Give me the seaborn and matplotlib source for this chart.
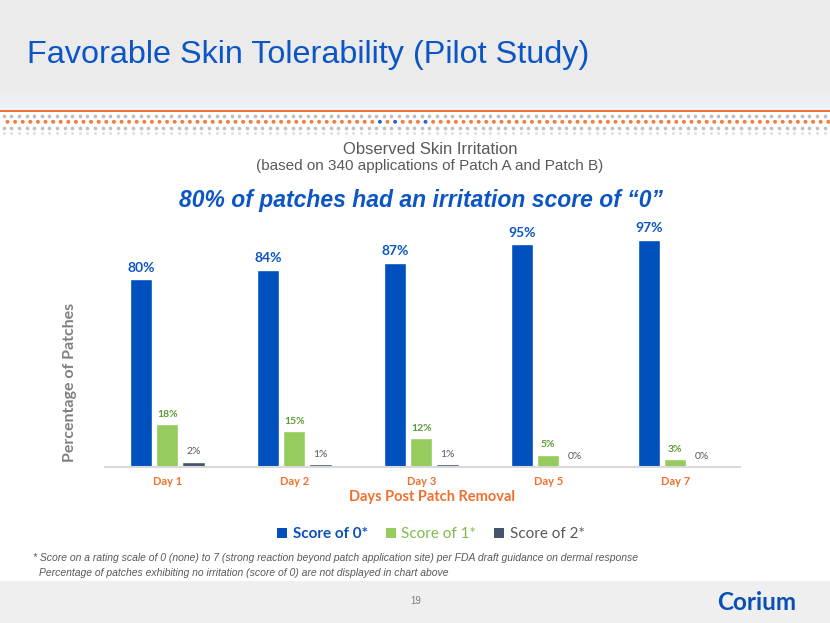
import matplotlib
matplotlib.use("Agg")
import matplotlib.pyplot as plt
from matplotlib.patches import Rectangle, Patch
import seaborn as sns
import pandas as pd
import numpy as np

DAYS = ["Day 1", "Day 2", "Day 3", "Day 5", "Day 7"]
SCORES = ["Score of 0*", "Score of 1*", "Score of 2*"]
SCORE_0 = [80, 84, 87, 95, 97]
SCORE_1 = [18, 15, 12, 5, 3]
SCORE_2 = [2, 1, 1, 0, 0]

BAR_COLORS = ["#0050BE", "#96CC5E", "#44546A"]
LABEL_COLORS = ["#0B55C4", "#5B9B35", "#595959"]
ORANGE = "#F0702D"
TITLE_BLUE = "#0B55C4"

W, H = 830, 623


def px(x, y):
    """pixel position -> figure fraction"""
    return x / W, 1 - y / H


def build_frame():
    rows = []
    for vals, score in zip([SCORE_0, SCORE_1, SCORE_2], SCORES):
        for day, v in zip(DAYS, vals):
            rows.append([day, score, v])
    return pd.DataFrame(rows, columns=["Day", "Score", "Percent"])


def draw_background(fig):
    bg = fig.add_axes([0, 0, 1, 1], zorder=-10)
    bg.set_xlim(0, W)
    bg.set_ylim(H, 0)
    bg.axis("off")

    # header band, grey fading to a pale blue just above the orange rule
    grad = np.linspace(0, 1, 110)[:, None]
    top = np.array([0.922, 0.922, 0.922])
    low = np.array([0.93, 0.95, 0.98])
    w = np.clip((grad - 0.78) / 0.22, 0, 1)
    img = top * (1 - w) + low * w
    img = np.repeat(img[:, None, :], 2, axis=1)
    bg.imshow(img, extent=[0, W, 110, 0], aspect="auto", zorder=0)
    bg.add_patch(Rectangle((0, 110), W, 2.2, color="#F07335", lw=0, zorder=1))

    # dotted strip
    step = 7.6
    xs = np.arange(7.5, W, step)
    grey = "#BEBEBE"
    bg.scatter(xs - step / 2, np.full_like(xs, 116.3), s=7, color=grey, lw=0)
    bg.scatter(xs - step / 2, np.full_like(xs, 127.6), s=7, color=grey, lw=0)
    bg.scatter(xs - step / 2, np.full_like(xs, 132.5), s=5, color="#E2E2E2", lw=0)
    dot_cols = []
    for x in xs:
        if any(abs(x - b) < 1.5 for b in (379.9, 395.1, 425.5)):
            dot_cols.append("#2E63C0")
        else:
            dot_cols.append("#F47C3C")
    bg.scatter(xs, np.full_like(xs, 121.8), s=8, color=dot_cols, lw=0)

    # footer band
    bg.add_patch(Rectangle((0, 581), W, H - 581, color="#EFEFEF", lw=0))


def main():
    sns.set_theme(style="white")
    plt.rcParams["font.family"] = ["Lato", "DejaVu Sans"]

    df = build_frame()

    fig = plt.figure(figsize=(8.3, 6.23), dpi=100)
    fig.patch.set_facecolor("white")
    draw_background(fig)

    ax = fig.add_axes([105 / W, 1 - 466.5 / H, 635 / W, 234 / H])
    ax.set_facecolor("none")
    sns.barplot(data=df, x="Day", y="Percent", hue="Score", order=DAYS,
                hue_order=SCORES, palette=BAR_COLORS, width=0.62, gap=0.15,
                saturation=1, ax=ax, legend=False)

    weights = ["bold", "bold", "normal"]
    sizes = [10, 7.5, 7.5]
    for cont, col, wt, sz in zip(ax.containers, LABEL_COLORS, weights, sizes):
        ax.bar_label(cont, labels=["%d%%" % v.get_height() for v in cont],
                     padding=4, color=col, fontweight=wt, fontsize=sz)

    ax.set_xlim(-0.49, 4.51)
    ax.set_ylim(0, 100)
    ax.set_yticks([])
    ax.set_xlabel("")
    ax.set_ylabel("")
    for side in ["left", "right", "top"]:
        ax.spines[side].set_visible(False)
    ax.spines["bottom"].set_color("#D9D9D9")
    ax.spines["bottom"].set_linewidth(1.5)
    ax.tick_params(axis="x", length=0, pad=7)
    for t in ax.get_xticklabels():
        t.set_color(ORANGE)
        t.set_fontweight("bold")
        t.set_fontsize(8)

    # axis titles
    fig.text(*px(432, 497), "Days Post Patch Removal", ha="center", va="center",
             color=ORANGE, fontweight="bold", fontsize=10.5)
    fig.text(*px(70, 382), "Percentage of Patches", ha="center", va="center",
             rotation=90, color="#7F7F7F", fontweight="bold", fontsize=11.5)

    # legend
    handles = [Patch(facecolor=c, edgecolor="none") for c in BAR_COLORS]
    leg = fig.legend(handles, SCORES, loc="center", bbox_to_anchor=px(431, 534),
                     ncol=3, frameon=False, fontsize=11, handlelength=0.65,
                     handleheight=0.65, handletextpad=0.35, columnspacing=1.2)
    leg_cols = ["#0B50BF", "#7DBB4A", "#595959"]
    for txt, c in zip(leg.get_texts(), leg_cols):
        txt.set_color(c)
    leg.get_texts()[0].set_fontweight("bold")

    # slide texts
    arial = ["Liberation Sans", "DejaVu Sans"]
    fig.text(*px(27, 55), "Favorable Skin Tolerability (Pilot Study)", ha="left",
             va="center", color=TITLE_BLUE, fontsize=23.3, family=arial)
    fig.text(*px(430, 150), "Observed Skin Irritation", ha="center", va="center",
             color="#595959", fontsize=12, family=arial)
    fig.text(*px(430, 166), "(based on 340 applications of Patch A and Patch B)",
             ha="center", va="center", color="#595959", fontsize=11, family=arial)
    fig.text(*px(421, 201), "80% of patches had an irritation score of \u201c0\u201d",
             ha="center", va="center", color=TITLE_BLUE, fontsize=16.5,
             fontweight="bold", fontstyle="italic", family=arial)

    narrow = ["Liberation Sans Narrow", "Liberation Sans", "DejaVu Sans"]
    fig.text(*px(33, 558), "* Score on a rating scale of 0 (none) to 7 (strong reaction "
             "beyond patch application site) per FDA draft guidance on dermal response",
             ha="left", va="center", color="#595959", fontsize=7.5,
             fontstyle="italic", family=narrow)
    fig.text(*px(39, 573), "Percentage of patches exhibiting no irritation (score of 0) "
             "are not displayed in chart above",
             ha="left", va="center", color="#595959", fontsize=7.5,
             fontstyle="italic", family=narrow)
    fig.text(*px(416, 601), "19", ha="center", va="center", color="#7F7F7F",
             fontsize=7, family=narrow)
    fig.text(*px(757, 603), "Corium", ha="center", va="center", color="#0A4FB5",
             fontsize=17.5, fontweight="bold", family=["Lato", "DejaVu Sans"])

    fig.savefig("out.png", dpi=100)


if __name__ == "__main__":
    main()
